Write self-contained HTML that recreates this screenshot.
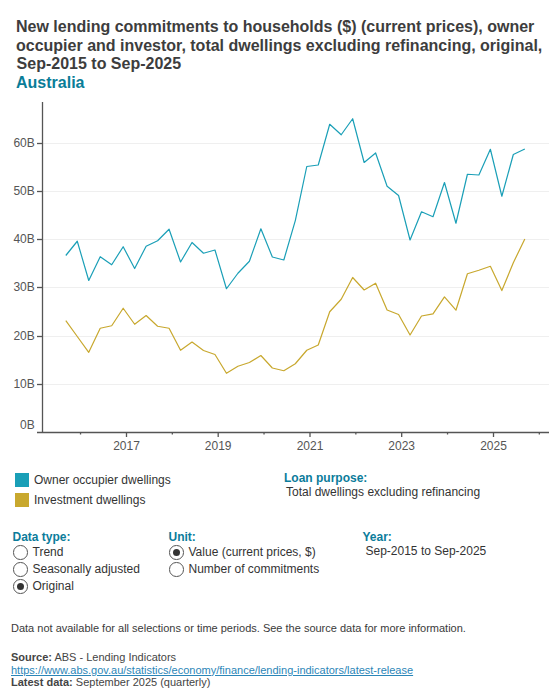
<!DOCTYPE html>
<html><head><meta charset="utf-8"><title>Lending</title>
<style>
*{margin:0;padding:0;box-sizing:border-box}
html,body{width:560px;height:700px;background:#fff;overflow:hidden}
body{font-family:"Liberation Sans",sans-serif;color:#333;position:relative}
.chart{position:absolute;left:0;top:0}
.yl,.xl{font-family:"Liberation Sans",sans-serif;font-size:12px;fill:#555}
.a{position:absolute;white-space:nowrap}
.title{left:16px;top:18px;font-size:16px;font-weight:bold;line-height:18.4px;color:#3d3d3d}
.aus{left:16px;top:73.6px;font-size:16px;font-weight:bold;line-height:18.4px;color:#0a7d98}
.sw{position:absolute;width:14px;height:14px}
.t12{font-size:12px;line-height:14px}
.h{font-weight:bold;color:#0b7c9b}
.t11{font-size:11px;line-height:12.5px}
.radio{position:absolute;width:14.6px;height:14.6px;border:1.1px solid #555;border-radius:50%;background:#fff}
.radio.on::after{content:"";position:absolute;left:2.7px;top:2.7px;width:7px;height:7px;border-radius:50%;background:#333}
a{color:#2b86b8}
</style></head><body>
<svg class="chart" width="560" height="460" viewBox="0 0 560 460">
<line x1="43" x2="549" y1="384.5" y2="384.5" stroke="#efefef" stroke-width="1"/>
<line x1="37" x2="42.5" y1="384.5" y2="384.5" stroke="#555" stroke-width="1.3"/>
<text x="34.8" y="387.5" text-anchor="end" class="yl">10B</text>
<line x1="43" x2="549" y1="336.5" y2="336.5" stroke="#efefef" stroke-width="1"/>
<line x1="37" x2="42.5" y1="336.5" y2="336.5" stroke="#555" stroke-width="1.3"/>
<text x="34.8" y="339.5" text-anchor="end" class="yl">20B</text>
<line x1="43" x2="549" y1="287.5" y2="287.5" stroke="#efefef" stroke-width="1"/>
<line x1="37" x2="42.5" y1="287.5" y2="287.5" stroke="#555" stroke-width="1.3"/>
<text x="34.8" y="290.5" text-anchor="end" class="yl">30B</text>
<line x1="43" x2="549" y1="239.5" y2="239.5" stroke="#efefef" stroke-width="1"/>
<line x1="37" x2="42.5" y1="239.5" y2="239.5" stroke="#555" stroke-width="1.3"/>
<text x="34.8" y="242.5" text-anchor="end" class="yl">40B</text>
<line x1="43" x2="549" y1="191.5" y2="191.5" stroke="#efefef" stroke-width="1"/>
<line x1="37" x2="42.5" y1="191.5" y2="191.5" stroke="#555" stroke-width="1.3"/>
<text x="34.8" y="194.5" text-anchor="end" class="yl">50B</text>
<line x1="43" x2="549" y1="143.5" y2="143.5" stroke="#efefef" stroke-width="1"/>
<line x1="37" x2="42.5" y1="143.5" y2="143.5" stroke="#555" stroke-width="1.3"/>
<text x="34.8" y="146.5" text-anchor="end" class="yl">60B</text>
<text x="34.8" y="429" text-anchor="end" class="yl">0B</text>
<line x1="42.5" x2="42.5" y1="102" y2="433" stroke="#555" stroke-width="1.3"/>
<line x1="37" x2="549" y1="432.5" y2="432.5" stroke="#555" stroke-width="1.3"/>
<line x1="126.50" x2="126.50" y1="432.5" y2="437" stroke="#555" stroke-width="1.3"/>
<text x="126.50" y="450" text-anchor="middle" class="xl">2017</text>
<line x1="218.19" x2="218.19" y1="432.5" y2="437" stroke="#555" stroke-width="1.3"/>
<text x="218.19" y="450" text-anchor="middle" class="xl">2019</text>
<line x1="310.00" x2="310.00" y1="432.5" y2="437" stroke="#555" stroke-width="1.3"/>
<text x="310.00" y="450" text-anchor="middle" class="xl">2021</text>
<line x1="401.69" x2="401.69" y1="432.5" y2="437" stroke="#555" stroke-width="1.3"/>
<text x="401.69" y="450" text-anchor="middle" class="xl">2023</text>
<line x1="493.50" x2="493.50" y1="432.5" y2="437" stroke="#555" stroke-width="1.3"/>
<text x="493.50" y="450" text-anchor="middle" class="xl">2025</text>
<line x1="80.53" x2="80.53" y1="432.5" y2="434.5" stroke="#555" stroke-width="1.3"/>
<line x1="172.34" x2="172.34" y1="432.5" y2="434.5" stroke="#555" stroke-width="1.3"/>
<line x1="264.03" x2="264.03" y1="432.5" y2="434.5" stroke="#555" stroke-width="1.3"/>
<line x1="355.84" x2="355.84" y1="432.5" y2="434.5" stroke="#555" stroke-width="1.3"/>
<line x1="447.53" x2="447.53" y1="432.5" y2="434.5" stroke="#555" stroke-width="1.3"/>
<line x1="539.34" x2="539.34" y1="432.5" y2="434.5" stroke="#555" stroke-width="1.3"/>
<path d="M65.80,255.50 L77.27,241.25 L88.75,280.50 L100.22,256.75 L111.70,264.75 L123.17,246.75 L134.65,268.50 L146.12,246.25 L157.60,240.75 L169.07,229.25 L180.55,262.00 L192.02,242.50 L203.50,253.25 L214.97,250.00 L226.45,288.75 L237.92,273.25 L249.40,261.25 L260.87,228.75 L272.35,257.00 L283.82,260.00 L295.30,220.60 L306.77,166.50 L318.25,165.00 L329.72,124.25 L341.20,134.75 L352.67,118.75 L364.15,162.50 L375.62,153.00 L387.10,186.25 L398.57,195.50 L410.05,240.00 L421.52,211.75 L433.00,216.75 L444.47,182.50 L455.95,223.25 L467.42,174.25 L478.90,175.00 L490.37,149.25 L501.85,196.25 L513.32,154.50 L524.80,149.00" fill="none" stroke="#1a9fb7" stroke-width="1.2" stroke-linejoin="round"/>
<path d="M65.80,320.70 L77.27,336.50 L88.75,352.30 L100.22,328.25 L111.70,325.75 L123.17,308.25 L134.65,324.25 L146.12,315.50 L157.60,326.25 L169.07,328.25 L180.55,350.25 L192.02,342.00 L203.50,350.50 L214.97,354.50 L226.45,373.25 L237.92,366.25 L249.40,362.50 L260.87,355.50 L272.35,368.00 L283.82,370.75 L295.30,363.75 L306.77,350.25 L318.25,345.00 L329.72,311.75 L341.20,299.25 L352.67,277.50 L364.15,290.00 L375.62,283.25 L387.10,310.00 L398.57,314.50 L410.05,335.00 L421.52,316.00 L433.00,313.90 L444.47,296.90 L455.95,310.20 L467.42,273.75 L478.90,270.25 L490.37,266.25 L501.85,290.60 L513.32,262.75 L524.80,239.00" fill="none" stroke="#c8a82e" stroke-width="1.2" stroke-linejoin="round"/>
</svg>
<div class="a title">New lending commitments to households ($) (current prices), owner</div>
<div class="a title" style="top:37.3px">occupier and investor, total dwellings excluding refinancing, original,</div>
<div class="a title" style="top:55.3px;left:16.6px">Sep-2015 to Sep-2025</div>
<div class="a aus">Australia</div>

<div class="sw" style="left:15px;top:473px;background:#1a9fb7"></div>
<div class="a t12" style="left:34px;top:473px">Owner occupier dwellings</div>
<div class="sw" style="left:15px;top:493px;background:#c8a82e"></div>
<div class="a t12" style="left:34px;top:492.9px">Investment dwellings</div>

<div class="a t12 h" style="left:284px;top:470.5px">Loan purpose:</div>
<div class="a t12" style="left:286px;top:485.2px">Total dwellings excluding refinancing</div>

<div class="a t12 h" style="left:12.5px;top:529.8px">Data type:</div>
<div class="radio" style="left:13.2px;top:545.1px"></div>
<div class="a t12" style="left:32.5px;top:545.3px">Trend</div>
<div class="radio" style="left:13.2px;top:562.2px"></div>
<div class="a t12" style="left:32.5px;top:561.7px">Seasonally adjusted</div>
<div class="radio on" style="left:13.2px;top:579.3px"></div>
<div class="a t12" style="left:32.5px;top:578.5px">Original</div>

<div class="a t12 h" style="left:168.5px;top:529.6px">Unit:</div>
<div class="radio on" style="left:169.2px;top:545.3px"></div>
<div class="a t12" style="left:188.5px;top:545.3px">Value (current prices, $)</div>
<div class="radio" style="left:169.2px;top:562.2px"></div>
<div class="a t12" style="left:188.5px;top:561.7px">Number of commitments</div>

<div class="a t12 h" style="left:362.5px;top:530.3px">Year:</div>
<div class="a t12" style="left:365.5px;top:544.1px">Sep-2015 to Sep-2025</div>

<div class="a t11" style="left:11px;top:622px;color:#3a3a3a">Data not available for all selections or time periods. See the source data for more information.</div>
<div class="a t11" style="left:11px;top:651.2px;color:#444"><b>Source:</b> ABS - Lending Indicators<br><a href="#">https://www.abs.gov.au/statistics/economy/finance/lending-indicators/latest-release</a><br><b>Latest data:</b> September 2025 (quarterly)</div>
</body></html>
